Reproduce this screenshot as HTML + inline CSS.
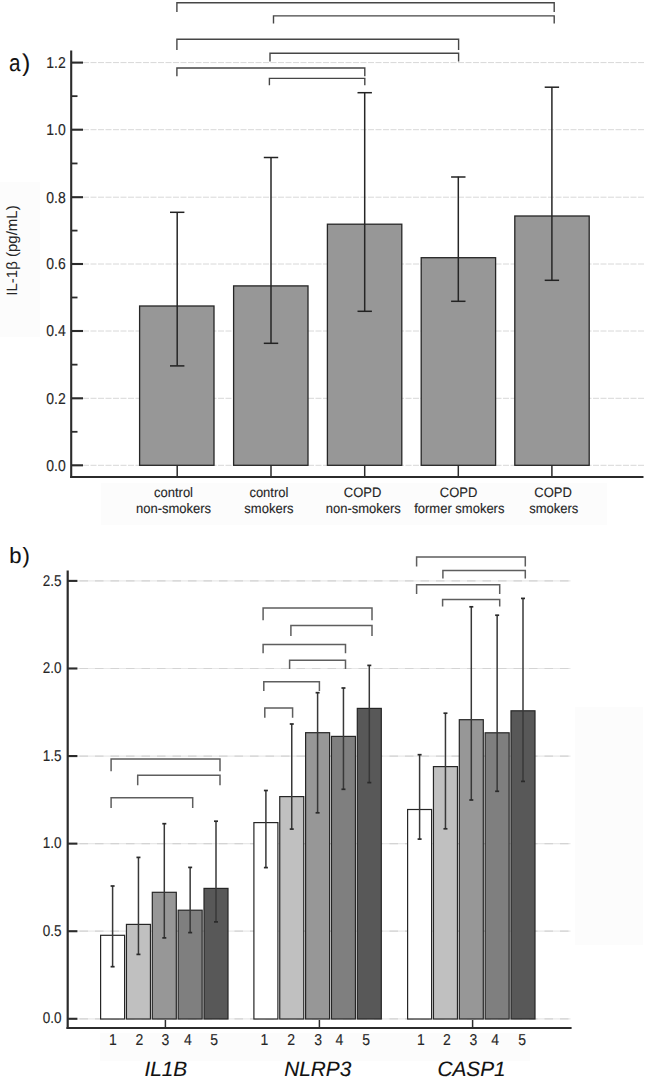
<!DOCTYPE html>
<html><head><meta charset="utf-8"><style>
html,body{margin:0;padding:0;background:#fff;}
body{width:645px;height:1079px;overflow:hidden;}
svg{display:block;font-family:"Liberation Sans", sans-serif;text-rendering:geometricPrecision;}

</style></head><body>
<svg width="645" height="1079" viewBox="0 0 645 1079">
<rect x="0" y="182" width="40" height="155" fill="#fcfcfc"/>
<rect x="101" y="483" width="506" height="42" fill="#fcfcfc"/>
<rect x="575" y="707" width="68" height="238" fill="#fcfcfc"/>
<rect x="100" y="1033" width="430" height="28" fill="#fcfcfc"/>
<line x1="83" y1="465.3" x2="645" y2="465.3" stroke="#d8d8d8" stroke-width="1" stroke-dasharray="6 1.5"/>
<line x1="83" y1="398.3" x2="645" y2="398.3" stroke="#d8d8d8" stroke-width="1" stroke-dasharray="6 1.5"/>
<line x1="83" y1="331.0" x2="645" y2="331.0" stroke="#d8d8d8" stroke-width="1" stroke-dasharray="6 1.5"/>
<line x1="83" y1="264.0" x2="645" y2="264.0" stroke="#d8d8d8" stroke-width="1" stroke-dasharray="6 1.5"/>
<line x1="83" y1="197.2" x2="645" y2="197.2" stroke="#d8d8d8" stroke-width="1" stroke-dasharray="6 1.5"/>
<line x1="83" y1="129.7" x2="645" y2="129.7" stroke="#d8d8d8" stroke-width="1" stroke-dasharray="6 1.5"/>
<line x1="83" y1="62.6" x2="645" y2="62.6" stroke="#d8d8d8" stroke-width="1" stroke-dasharray="6 1.5"/>
<rect x="139.6" y="306.0" width="74.4" height="159.3" fill="#979797" stroke="#262626" stroke-width="1.3"/>
<rect x="233.6" y="285.9" width="74.4" height="179.40000000000003" fill="#979797" stroke="#262626" stroke-width="1.3"/>
<rect x="327.4" y="224.2" width="74.4" height="241.10000000000002" fill="#979797" stroke="#262626" stroke-width="1.3"/>
<rect x="421.2" y="257.7" width="74.4" height="207.60000000000002" fill="#979797" stroke="#262626" stroke-width="1.3"/>
<rect x="514.8" y="216.0" width="74.4" height="249.3" fill="#979797" stroke="#262626" stroke-width="1.3"/>
<line x1="177.2" y1="212.0" x2="177.2" y2="365.6" stroke="#262626" stroke-width="1.5" />
<line x1="170.0" y1="212.3" x2="184.39999999999998" y2="212.3" stroke="#222" stroke-width="1.5" />
<line x1="170.0" y1="365.90000000000003" x2="184.39999999999998" y2="365.90000000000003" stroke="#222" stroke-width="1.5" />
<line x1="271.0" y1="157.2" x2="271.0" y2="343.0" stroke="#262626" stroke-width="1.5" />
<line x1="263.8" y1="157.5" x2="278.2" y2="157.5" stroke="#222" stroke-width="1.5" />
<line x1="263.8" y1="343.3" x2="278.2" y2="343.3" stroke="#222" stroke-width="1.5" />
<line x1="364.7" y1="92.4" x2="364.7" y2="311.0" stroke="#262626" stroke-width="1.5" />
<line x1="357.5" y1="92.7" x2="371.9" y2="92.7" stroke="#222" stroke-width="1.5" />
<line x1="357.5" y1="311.3" x2="371.9" y2="311.3" stroke="#222" stroke-width="1.5" />
<line x1="458.3" y1="176.7" x2="458.3" y2="301.0" stroke="#262626" stroke-width="1.5" />
<line x1="451.1" y1="177.0" x2="465.5" y2="177.0" stroke="#222" stroke-width="1.5" />
<line x1="451.1" y1="301.3" x2="465.5" y2="301.3" stroke="#222" stroke-width="1.5" />
<line x1="551.9" y1="86.9" x2="551.9" y2="280.0" stroke="#262626" stroke-width="1.5" />
<line x1="544.6999999999999" y1="87.2" x2="559.1" y2="87.2" stroke="#222" stroke-width="1.5" />
<line x1="544.6999999999999" y1="280.3" x2="559.1" y2="280.3" stroke="#222" stroke-width="1.5" />
<line x1="177.2" y1="465.3" x2="177.2" y2="476.5" stroke="#2b2b2b" stroke-width="1.5" />
<line x1="271.0" y1="465.3" x2="271.0" y2="476.5" stroke="#2b2b2b" stroke-width="1.5" />
<line x1="364.7" y1="465.3" x2="364.7" y2="476.5" stroke="#2b2b2b" stroke-width="1.5" />
<line x1="458.3" y1="465.3" x2="458.3" y2="476.5" stroke="#2b2b2b" stroke-width="1.5" />
<line x1="551.9" y1="465.3" x2="551.9" y2="476.5" stroke="#2b2b2b" stroke-width="1.5" />
<line x1="71.2" y1="50.5" x2="71.2" y2="478.0" stroke="#2b2b2b" stroke-width="2.1" />
<line x1="70.2" y1="476.95" x2="643.5" y2="476.95" stroke="#2b2b2b" stroke-width="2.1" />
<line x1="71" y1="465.3" x2="83" y2="465.3" stroke="#2b2b2b" stroke-width="2.1" />
<line x1="71" y1="398.3" x2="83" y2="398.3" stroke="#2b2b2b" stroke-width="2.1" />
<line x1="71" y1="331.0" x2="83" y2="331.0" stroke="#2b2b2b" stroke-width="2.1" />
<line x1="71" y1="264.0" x2="83" y2="264.0" stroke="#2b2b2b" stroke-width="2.1" />
<line x1="71" y1="197.2" x2="83" y2="197.2" stroke="#2b2b2b" stroke-width="2.1" />
<line x1="71" y1="129.7" x2="83" y2="129.7" stroke="#2b2b2b" stroke-width="2.1" />
<line x1="71" y1="62.6" x2="83" y2="62.6" stroke="#2b2b2b" stroke-width="2.1" />
<line x1="71" y1="431.8" x2="77.5" y2="431.8" stroke="#2b2b2b" stroke-width="1.8" />
<line x1="71" y1="364.65" x2="77.5" y2="364.65" stroke="#2b2b2b" stroke-width="1.8" />
<line x1="71" y1="297.5" x2="77.5" y2="297.5" stroke="#2b2b2b" stroke-width="1.8" />
<line x1="71" y1="230.6" x2="77.5" y2="230.6" stroke="#2b2b2b" stroke-width="1.8" />
<line x1="71" y1="163.45" x2="77.5" y2="163.45" stroke="#2b2b2b" stroke-width="1.8" />
<line x1="71" y1="96.14999999999999" x2="77.5" y2="96.14999999999999" stroke="#2b2b2b" stroke-width="1.8" />
<text transform="translate(65.70,470.60) scale(1,1.13)" font-size="14" text-anchor="end" fill="#262626" stroke="#262626" stroke-width="0.12" >0.0</text>
<text transform="translate(65.70,403.60) scale(1,1.13)" font-size="14" text-anchor="end" fill="#262626" stroke="#262626" stroke-width="0.12" >0.2</text>
<text transform="translate(65.70,336.30) scale(1,1.13)" font-size="14" text-anchor="end" fill="#262626" stroke="#262626" stroke-width="0.12" >0.4</text>
<text transform="translate(65.70,269.30) scale(1,1.13)" font-size="14" text-anchor="end" fill="#262626" stroke="#262626" stroke-width="0.12" >0.6</text>
<text transform="translate(65.70,202.50) scale(1,1.13)" font-size="14" text-anchor="end" fill="#262626" stroke="#262626" stroke-width="0.12" >0.8</text>
<text transform="translate(65.70,135.00) scale(1,1.13)" font-size="14" text-anchor="end" fill="#262626" stroke="#262626" stroke-width="0.12" >1.0</text>
<text transform="translate(65.70,67.90) scale(1,1.13)" font-size="14" text-anchor="end" fill="#262626" stroke="#262626" stroke-width="0.12" >1.2</text>
<path d="M176.9,12.0 V2.8 H554.2 V12.0" fill="none" stroke="#464646" stroke-width="1.4" stroke-linejoin="miter" stroke-linecap="butt"/>
<path d="M273.5,23.5 V15.9 H554.2 V23.5" fill="none" stroke="#464646" stroke-width="1.4" stroke-linejoin="miter" stroke-linecap="butt"/>
<path d="M176.9,50.0 V39.2 H458.6 V50.0" fill="none" stroke="#464646" stroke-width="1.4" stroke-linejoin="miter" stroke-linecap="butt"/>
<path d="M270.0,61.6 V53.2 H458.6 V61.6" fill="none" stroke="#464646" stroke-width="1.4" stroke-linejoin="miter" stroke-linecap="butt"/>
<path d="M176.9,76.3 V68.0 H364.8 V76.3" fill="none" stroke="#464646" stroke-width="1.4" stroke-linejoin="miter" stroke-linecap="butt"/>
<path d="M269.4,85.2 V78.4 H364.8 V85.2" fill="none" stroke="#464646" stroke-width="1.4" stroke-linejoin="miter" stroke-linecap="butt"/>
<text x="0" y="0" font-size="24" fill="#111" transform="translate(9.0,71.2) scale(0.86,1)">a</text>
<text transform="translate(22.20,70.50) scale(1,1.0)" font-size="24" text-anchor="start" fill="#111" stroke="#111" stroke-width="0.12" >)</text>
<text x="0" y="0" font-size="15" fill="#262626" text-anchor="middle" transform="translate(17.2,250.5) rotate(-90)">IL-1β (pg/mL)</text>
<text transform="translate(173.50,496.80) scale(1,1.05)" font-size="13" text-anchor="middle" fill="#262626" stroke="#262626" stroke-width="0.12" >control</text>
<text transform="translate(173.50,512.50) scale(1,1.05)" font-size="13" text-anchor="middle" fill="#262626" stroke="#262626" stroke-width="0.12" >non-smokers</text>
<text transform="translate(268.90,496.80) scale(1,1.05)" font-size="13" text-anchor="middle" fill="#262626" stroke="#262626" stroke-width="0.12" >control</text>
<text transform="translate(268.90,512.50) scale(1,1.05)" font-size="13" text-anchor="middle" fill="#262626" stroke="#262626" stroke-width="0.12" >smokers</text>
<text transform="translate(362.60,496.80) scale(1,1.05)" font-size="13" text-anchor="middle" fill="#262626" stroke="#262626" stroke-width="0.12" >COPD</text>
<text transform="translate(363.30,512.50) scale(1,1.05)" font-size="13" text-anchor="middle" fill="#262626" stroke="#262626" stroke-width="0.12" >non-smokers</text>
<text transform="translate(458.60,496.80) scale(1,1.05)" font-size="13" text-anchor="middle" fill="#262626" stroke="#262626" stroke-width="0.12" >COPD</text>
<text transform="translate(459.30,512.50) scale(1,1.05)" font-size="13" text-anchor="middle" fill="#262626" stroke="#262626" stroke-width="0.12" >former smokers</text>
<text transform="translate(553.10,496.80) scale(1,1.05)" font-size="13" text-anchor="middle" fill="#262626" stroke="#262626" stroke-width="0.12" >COPD</text>
<text transform="translate(553.80,512.50) scale(1,1.05)" font-size="13" text-anchor="middle" fill="#262626" stroke="#262626" stroke-width="0.12" >smokers</text>
<line x1="77" y1="1018.8" x2="570.5" y2="1018.8" stroke="#e8e8e8" stroke-width="1.2" />
<line x1="79.5" y1="1018.8" x2="570.5" y2="1018.8" stroke="#d4d4d4" stroke-width="1.2" stroke-dasharray="8.5 7"/>
<line x1="77" y1="931.2199999999999" x2="570.5" y2="931.2199999999999" stroke="#e8e8e8" stroke-width="1.2" />
<line x1="79.5" y1="931.2199999999999" x2="570.5" y2="931.2199999999999" stroke="#d4d4d4" stroke-width="1.2" stroke-dasharray="8.5 7"/>
<line x1="77" y1="843.64" x2="570.5" y2="843.64" stroke="#e8e8e8" stroke-width="1.2" />
<line x1="79.5" y1="843.64" x2="570.5" y2="843.64" stroke="#d4d4d4" stroke-width="1.2" stroke-dasharray="8.5 7"/>
<line x1="77" y1="756.06" x2="570.5" y2="756.06" stroke="#e8e8e8" stroke-width="1.2" />
<line x1="79.5" y1="756.06" x2="570.5" y2="756.06" stroke="#d4d4d4" stroke-width="1.2" stroke-dasharray="8.5 7"/>
<line x1="77" y1="668.48" x2="570.5" y2="668.48" stroke="#e8e8e8" stroke-width="1.2" />
<line x1="79.5" y1="668.48" x2="570.5" y2="668.48" stroke="#d4d4d4" stroke-width="1.2" stroke-dasharray="8.5 7"/>
<line x1="77" y1="580.9" x2="570.5" y2="580.9" stroke="#e8e8e8" stroke-width="1.2" />
<line x1="79.5" y1="580.9" x2="570.5" y2="580.9" stroke="#d4d4d4" stroke-width="1.2" stroke-dasharray="8.5 7"/>
<rect x="100.6" y="935.3" width="24.0" height="83.70000000000005" fill="#ffffff" stroke="#262626" stroke-width="1.2"/>
<rect x="126.44999999999999" y="924.4" width="24.0" height="94.60000000000002" fill="#c0c0c0" stroke="#262626" stroke-width="1.2"/>
<rect x="152.29999999999998" y="892.3" width="24.0" height="126.70000000000005" fill="#979797" stroke="#262626" stroke-width="1.2"/>
<rect x="178.15" y="910.2" width="24.0" height="108.79999999999995" fill="#7f7f7f" stroke="#262626" stroke-width="1.2"/>
<rect x="204.0" y="888.4" width="24.0" height="130.60000000000002" fill="#585858" stroke="#262626" stroke-width="1.2"/>
<rect x="253.9" y="822.6" width="24.0" height="196.39999999999998" fill="#ffffff" stroke="#262626" stroke-width="1.2"/>
<rect x="279.75000000000006" y="796.6" width="24.0" height="222.39999999999998" fill="#c0c0c0" stroke="#262626" stroke-width="1.2"/>
<rect x="305.6" y="732.7" width="24.0" height="286.29999999999995" fill="#979797" stroke="#262626" stroke-width="1.2"/>
<rect x="331.45000000000005" y="736.4" width="24.0" height="282.6" fill="#7f7f7f" stroke="#262626" stroke-width="1.2"/>
<rect x="357.30000000000007" y="708.4" width="24.0" height="310.6" fill="#585858" stroke="#262626" stroke-width="1.2"/>
<rect x="407.6" y="809.5" width="24.0" height="209.5" fill="#ffffff" stroke="#262626" stroke-width="1.2"/>
<rect x="433.45000000000005" y="766.6" width="24.0" height="252.39999999999998" fill="#c0c0c0" stroke="#262626" stroke-width="1.2"/>
<rect x="459.3" y="719.7" width="24.0" height="299.29999999999995" fill="#979797" stroke="#262626" stroke-width="1.2"/>
<rect x="485.15000000000003" y="732.8" width="24.0" height="286.20000000000005" fill="#7f7f7f" stroke="#262626" stroke-width="1.2"/>
<rect x="511.0" y="710.8" width="24.0" height="308.20000000000005" fill="#585858" stroke="#262626" stroke-width="1.2"/>
<line x1="112.6" y1="886" x2="112.6" y2="966.7" stroke="#383838" stroke-width="1.5" />
<line x1="110.6" y1="886" x2="114.6" y2="886" stroke="#2a2a2a" stroke-width="1.7" />
<line x1="110.6" y1="966.7" x2="114.6" y2="966.7" stroke="#2a2a2a" stroke-width="1.7" />
<line x1="138.45" y1="857.4" x2="138.45" y2="954.4" stroke="#383838" stroke-width="1.5" />
<line x1="136.45" y1="857.4" x2="140.45" y2="857.4" stroke="#2a2a2a" stroke-width="1.7" />
<line x1="136.45" y1="954.4" x2="140.45" y2="954.4" stroke="#2a2a2a" stroke-width="1.7" />
<line x1="164.29999999999998" y1="823.7" x2="164.29999999999998" y2="937.9" stroke="#383838" stroke-width="1.5" />
<line x1="162.29999999999998" y1="823.7" x2="166.29999999999998" y2="823.7" stroke="#2a2a2a" stroke-width="1.7" />
<line x1="162.29999999999998" y1="937.9" x2="166.29999999999998" y2="937.9" stroke="#2a2a2a" stroke-width="1.7" />
<line x1="190.15" y1="867.4" x2="190.15" y2="932.6" stroke="#383838" stroke-width="1.5" />
<line x1="188.15" y1="867.4" x2="192.15" y2="867.4" stroke="#2a2a2a" stroke-width="1.7" />
<line x1="188.15" y1="932.6" x2="192.15" y2="932.6" stroke="#2a2a2a" stroke-width="1.7" />
<line x1="216.0" y1="821.2" x2="216.0" y2="921.9" stroke="#383838" stroke-width="1.5" />
<line x1="214.0" y1="821.2" x2="218.0" y2="821.2" stroke="#2a2a2a" stroke-width="1.7" />
<line x1="214.0" y1="921.9" x2="218.0" y2="921.9" stroke="#2a2a2a" stroke-width="1.7" />
<line x1="265.9" y1="790.5" x2="265.9" y2="867.6" stroke="#383838" stroke-width="1.5" />
<line x1="263.9" y1="790.5" x2="267.9" y2="790.5" stroke="#2a2a2a" stroke-width="1.7" />
<line x1="263.9" y1="867.6" x2="267.9" y2="867.6" stroke="#2a2a2a" stroke-width="1.7" />
<line x1="291.75000000000006" y1="724" x2="291.75000000000006" y2="829.1" stroke="#383838" stroke-width="1.5" />
<line x1="289.75000000000006" y1="724" x2="293.75000000000006" y2="724" stroke="#2a2a2a" stroke-width="1.7" />
<line x1="289.75000000000006" y1="829.1" x2="293.75000000000006" y2="829.1" stroke="#2a2a2a" stroke-width="1.7" />
<line x1="317.6" y1="692.7" x2="317.6" y2="812.8" stroke="#383838" stroke-width="1.5" />
<line x1="315.6" y1="692.7" x2="319.6" y2="692.7" stroke="#2a2a2a" stroke-width="1.7" />
<line x1="315.6" y1="812.8" x2="319.6" y2="812.8" stroke="#2a2a2a" stroke-width="1.7" />
<line x1="343.45000000000005" y1="688" x2="343.45000000000005" y2="789.3" stroke="#383838" stroke-width="1.5" />
<line x1="341.45000000000005" y1="688" x2="345.45000000000005" y2="688" stroke="#2a2a2a" stroke-width="1.7" />
<line x1="341.45000000000005" y1="789.3" x2="345.45000000000005" y2="789.3" stroke="#2a2a2a" stroke-width="1.7" />
<line x1="369.30000000000007" y1="665.4" x2="369.30000000000007" y2="782.6" stroke="#383838" stroke-width="1.5" />
<line x1="367.30000000000007" y1="665.4" x2="371.30000000000007" y2="665.4" stroke="#2a2a2a" stroke-width="1.7" />
<line x1="367.30000000000007" y1="782.6" x2="371.30000000000007" y2="782.6" stroke="#2a2a2a" stroke-width="1.7" />
<line x1="419.6" y1="754.7" x2="419.6" y2="839.1" stroke="#383838" stroke-width="1.5" />
<line x1="417.6" y1="754.7" x2="421.6" y2="754.7" stroke="#2a2a2a" stroke-width="1.7" />
<line x1="417.6" y1="839.1" x2="421.6" y2="839.1" stroke="#2a2a2a" stroke-width="1.7" />
<line x1="445.45000000000005" y1="713.2" x2="445.45000000000005" y2="828.8" stroke="#383838" stroke-width="1.5" />
<line x1="443.45000000000005" y1="713.2" x2="447.45000000000005" y2="713.2" stroke="#2a2a2a" stroke-width="1.7" />
<line x1="443.45000000000005" y1="828.8" x2="447.45000000000005" y2="828.8" stroke="#2a2a2a" stroke-width="1.7" />
<line x1="471.3" y1="606.8" x2="471.3" y2="800" stroke="#383838" stroke-width="1.5" />
<line x1="469.3" y1="606.8" x2="473.3" y2="606.8" stroke="#2a2a2a" stroke-width="1.7" />
<line x1="469.3" y1="800" x2="473.3" y2="800" stroke="#2a2a2a" stroke-width="1.7" />
<line x1="497.15000000000003" y1="615.2" x2="497.15000000000003" y2="791.3" stroke="#383838" stroke-width="1.5" />
<line x1="495.15000000000003" y1="615.2" x2="499.15000000000003" y2="615.2" stroke="#2a2a2a" stroke-width="1.7" />
<line x1="495.15000000000003" y1="791.3" x2="499.15000000000003" y2="791.3" stroke="#2a2a2a" stroke-width="1.7" />
<line x1="523.0" y1="598.4" x2="523.0" y2="781.4" stroke="#383838" stroke-width="1.5" />
<line x1="521.0" y1="598.4" x2="525.0" y2="598.4" stroke="#2a2a2a" stroke-width="1.7" />
<line x1="521.0" y1="781.4" x2="525.0" y2="781.4" stroke="#2a2a2a" stroke-width="1.7" />
<line x1="67.7" y1="570.4" x2="67.7" y2="1029.1" stroke="#2b2b2b" stroke-width="2.2" />
<line x1="66.5" y1="1028.1" x2="571.6" y2="1028.1" stroke="#2b2b2b" stroke-width="2.0" />
<line x1="67" y1="1018.8" x2="77.4" y2="1018.8" stroke="#2b2b2b" stroke-width="2.1" />
<text transform="translate(61.60,1023.40) scale(1,1.15)" font-size="13.5" text-anchor="end" fill="#262626" stroke="#262626" stroke-width="0.12" >0.0</text>
<line x1="67" y1="931.2199999999999" x2="77.4" y2="931.2199999999999" stroke="#2b2b2b" stroke-width="2.1" />
<text transform="translate(61.60,935.82) scale(1,1.15)" font-size="13.5" text-anchor="end" fill="#262626" stroke="#262626" stroke-width="0.12" >0.5</text>
<line x1="67" y1="843.64" x2="77.4" y2="843.64" stroke="#2b2b2b" stroke-width="2.1" />
<text transform="translate(61.60,848.24) scale(1,1.15)" font-size="13.5" text-anchor="end" fill="#262626" stroke="#262626" stroke-width="0.12" >1.0</text>
<line x1="67" y1="756.06" x2="77.4" y2="756.06" stroke="#2b2b2b" stroke-width="2.1" />
<text transform="translate(61.60,760.66) scale(1,1.15)" font-size="13.5" text-anchor="end" fill="#262626" stroke="#262626" stroke-width="0.12" >1.5</text>
<line x1="67" y1="668.48" x2="77.4" y2="668.48" stroke="#2b2b2b" stroke-width="2.1" />
<text transform="translate(61.60,673.08) scale(1,1.15)" font-size="13.5" text-anchor="end" fill="#262626" stroke="#262626" stroke-width="0.12" >2.0</text>
<line x1="67" y1="580.9" x2="77.4" y2="580.9" stroke="#2b2b2b" stroke-width="2.1" />
<text transform="translate(61.60,585.50) scale(1,1.15)" font-size="13.5" text-anchor="end" fill="#262626" stroke="#262626" stroke-width="0.12" >2.5</text>
<line x1="165.4" y1="1020" x2="165.4" y2="1028" stroke="#2b2b2b" stroke-width="1.5" />
<line x1="319.4" y1="1020" x2="319.4" y2="1028" stroke="#2b2b2b" stroke-width="1.5" />
<line x1="472.6" y1="1020" x2="472.6" y2="1028" stroke="#2b2b2b" stroke-width="1.5" />
<text transform="translate(112.80,1045.20) scale(1,1.13)" font-size="14" text-anchor="middle" fill="#262626" stroke="#262626" stroke-width="0.12" >1</text>
<text transform="translate(139.30,1045.20) scale(1,1.13)" font-size="14" text-anchor="middle" fill="#262626" stroke="#262626" stroke-width="0.12" >2</text>
<text transform="translate(165.50,1045.20) scale(1,1.13)" font-size="14" text-anchor="middle" fill="#262626" stroke="#262626" stroke-width="0.12" >3</text>
<text transform="translate(188.00,1045.20) scale(1,1.13)" font-size="14" text-anchor="middle" fill="#262626" stroke="#262626" stroke-width="0.12" >4</text>
<text transform="translate(214.20,1045.20) scale(1,1.13)" font-size="14" text-anchor="middle" fill="#262626" stroke="#262626" stroke-width="0.12" >5</text>
<text transform="translate(264.50,1045.20) scale(1,1.13)" font-size="14" text-anchor="middle" fill="#262626" stroke="#262626" stroke-width="0.12" >1</text>
<text transform="translate(291.10,1045.20) scale(1,1.13)" font-size="14" text-anchor="middle" fill="#262626" stroke="#262626" stroke-width="0.12" >2</text>
<text transform="translate(318.10,1045.20) scale(1,1.13)" font-size="14" text-anchor="middle" fill="#262626" stroke="#262626" stroke-width="0.12" >3</text>
<text transform="translate(339.30,1045.20) scale(1,1.13)" font-size="14" text-anchor="middle" fill="#262626" stroke="#262626" stroke-width="0.12" >4</text>
<text transform="translate(366.10,1045.20) scale(1,1.13)" font-size="14" text-anchor="middle" fill="#262626" stroke="#262626" stroke-width="0.12" >5</text>
<text transform="translate(420.80,1045.20) scale(1,1.13)" font-size="14" text-anchor="middle" fill="#262626" stroke="#262626" stroke-width="0.12" >1</text>
<text transform="translate(446.80,1045.20) scale(1,1.13)" font-size="14" text-anchor="middle" fill="#262626" stroke="#262626" stroke-width="0.12" >2</text>
<text transform="translate(473.40,1045.20) scale(1,1.13)" font-size="14" text-anchor="middle" fill="#262626" stroke="#262626" stroke-width="0.12" >3</text>
<text transform="translate(495.20,1045.20) scale(1,1.13)" font-size="14" text-anchor="middle" fill="#262626" stroke="#262626" stroke-width="0.12" >4</text>
<text transform="translate(522.20,1045.20) scale(1,1.13)" font-size="14" text-anchor="middle" fill="#262626" stroke="#262626" stroke-width="0.12" >5</text>
<text transform="translate(165.80,1076.00) scale(1,1.0)" font-size="20.8" text-anchor="middle" fill="#111" stroke="#111" stroke-width="0.12" font-style="italic" >IL1B</text>
<text transform="translate(317.70,1076.00) scale(1,1.0)" font-size="20.8" text-anchor="middle" fill="#111" stroke="#111" stroke-width="0.12" font-style="italic" >NLRP3</text>
<text transform="translate(471.50,1076.00) scale(1,1.0)" font-size="20.8" text-anchor="middle" fill="#111" stroke="#111" stroke-width="0.12" font-style="italic" >CASP1</text>
<path d="M111.1,771.2 V759.1 H220.0 V771.2" fill="none" stroke="#5e5e5e" stroke-width="1.5" stroke-linejoin="miter" stroke-linecap="butt"/>
<path d="M137.7,785.3 V775.2 H220.0 V785.3" fill="none" stroke="#5e5e5e" stroke-width="1.5" stroke-linejoin="miter" stroke-linecap="butt"/>
<path d="M111.1,808.0 V797.8 H192.7 V808.0" fill="none" stroke="#5e5e5e" stroke-width="1.5" stroke-linejoin="miter" stroke-linecap="butt"/>
<path d="M263.1,620.3 V607.9 H372.0 V620.3" fill="none" stroke="#5e5e5e" stroke-width="1.5" stroke-linejoin="miter" stroke-linecap="butt"/>
<path d="M290.9,635.9 V625.5 H372.0 V635.9" fill="none" stroke="#5e5e5e" stroke-width="1.5" stroke-linejoin="miter" stroke-linecap="butt"/>
<path d="M263.1,653.3 V644.6 H345.5 V653.3" fill="none" stroke="#5e5e5e" stroke-width="1.5" stroke-linejoin="miter" stroke-linecap="butt"/>
<path d="M289.6,668.9 V660.2 H345.5 V668.9" fill="none" stroke="#5e5e5e" stroke-width="1.5" stroke-linejoin="miter" stroke-linecap="butt"/>
<path d="M263.8,691.0 V681.8 H319.4 V691.0" fill="none" stroke="#5e5e5e" stroke-width="1.5" stroke-linejoin="miter" stroke-linecap="butt"/>
<path d="M264.8,717.8 V707.9 H292.6 V717.8" fill="none" stroke="#5e5e5e" stroke-width="1.5" stroke-linejoin="miter" stroke-linecap="butt"/>
<path d="M416.6,566.5 V556.9 H525.3 V566.5" fill="none" stroke="#5e5e5e" stroke-width="1.5" stroke-linejoin="miter" stroke-linecap="butt"/>
<path d="M442.9,578.5 V570.6 H525.3 V578.5" fill="none" stroke="#5e5e5e" stroke-width="1.5" stroke-linejoin="miter" stroke-linecap="butt"/>
<path d="M416.6,594.1 V584.7 H499.7 V594.1" fill="none" stroke="#5e5e5e" stroke-width="1.5" stroke-linejoin="miter" stroke-linecap="butt"/>
<path d="M442.6,606.5 V599.6 H499.7 V606.5" fill="none" stroke="#5e5e5e" stroke-width="1.5" stroke-linejoin="miter" stroke-linecap="butt"/>
<text transform="translate(9.30,563.40) scale(1,1.0)" font-size="22" text-anchor="start" fill="#111" stroke="#111" stroke-width="0.12" >b</text>
<text transform="translate(22.50,563.40) scale(1,1.0)" font-size="22" text-anchor="start" fill="#111" stroke="#111" stroke-width="0.12" >)</text>
</svg>
</body></html>
